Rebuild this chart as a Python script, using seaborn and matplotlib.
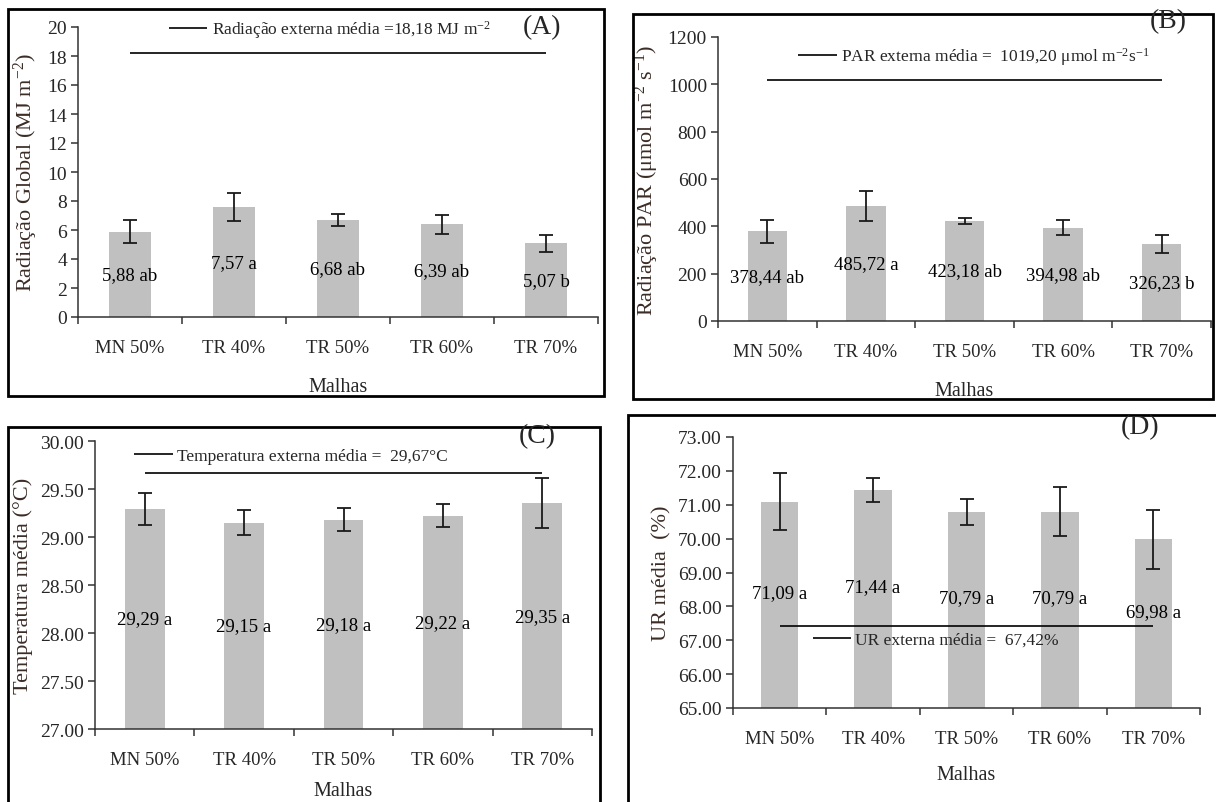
import matplotlib
matplotlib.use("Agg")
import matplotlib.pyplot as plt
import matplotlib.patches as patches
import seaborn as sns
import pandas as pd
import numpy as np

# Data
malhas = ["MN 50%", "TR 40%", "TR 50%", "TR 60%", "TR 70%"]

rad_global = [5.88, 7.57, 6.68, 6.39, 5.07]
rad_global_err = [0.80, 0.95, 0.40, 0.65, 0.58]
rad_global_lbl = ["5,88 ab", "7,57 a", "6,68 ab", "6,39 ab", "5,07 b"]
rad_global_ext = 18.18

par = [378.44, 485.72, 423.18, 394.98, 326.23]
par_err = [50, 62, 14, 32, 38]
par_lbl = ["378,44 ab", "485,72 a", "423,18 ab", "394,98 ab", "326,23 b"]
par_ext = 1019.20

temp = [29.29, 29.15, 29.18, 29.22, 29.35]
temp_err = [0.17, 0.13, 0.12, 0.12, 0.26]
temp_lbl = ["29,29 a", "29,15 a", "29,18 a", "29,22 a", "29,35 a"]
temp_ext = 29.67

ur = [71.09, 71.44, 70.79, 70.79, 69.98]
ur_err = [0.85, 0.35, 0.38, 0.72, 0.87]
ur_lbl = ["71,09 a", "71,44 a", "70,79 a", "70,79 a", "69,98 a"]
ur_ext = 67.42

sns.set_theme(style="white")
plt.rcParams["font.family"] = ["Liberation Serif", "DejaVu Serif"]
plt.rcParams["mathtext.default"] = "regular"

W, H = 1216, 803
fig = plt.figure(figsize=(W / 100, H / 100), dpi=100)
fig.patch.set_facecolor("white")


def px_axes(l, r, t, b):
    return fig.add_axes([l / W, 1 - b / H, (r - l) / W, (b - t) / H])


def box(l, t, r, b):
    fig.patches.append(patches.Rectangle((l / W, 1 - b / H), (r - l) / W, (b - t) / H,
                                         transform=fig.transFigure, fill=False,
                                         edgecolor="black", linewidth=2))


def panel(ax, vals, errs, lbls, ref, ref_text, ylim, yticks, fmt, ylabel,
          leg_xy, tag, tag_xy, lbl_shift=0.0, xlabelpad=15):
    df = pd.DataFrame({"Malha": malhas, "Valor": vals})
    sns.barplot(data=df, x="Malha", y="Valor", color="#c0c0c0", width=0.4,
                saturation=1, ax=ax, edgecolor="none")
    ax.errorbar(range(len(malhas)), vals, yerr=errs, fmt="none", ecolor="#1a1a1a",
                elinewidth=1.3, capsize=5, capthick=1.3, zorder=5)
    for i, (v, s) in enumerate(zip(vals, lbls)):
        ax.text(i, (ylim[0] + v) / 2 + lbl_shift, s, ha="center", va="center",
                fontsize=13.5, color="black", zorder=6)
    ax.hlines(ref, 0, len(malhas) - 1, colors="black", linewidth=1.2, label=ref_text)
    ax.legend(loc="center", bbox_to_anchor=(leg_xy[0] / W, 1 - leg_xy[1] / H),
              bbox_transform=fig.transFigure, frameon=False, fontsize=12.5,
              handlelength=2.2, handletextpad=0.25, borderpad=0)
    ax.set_ylim(*ylim)
    ax.set_yticks(yticks)
    ax.set_yticklabels([fmt.format(t) for t in yticks])
    ax.set_xlim(-0.5, len(malhas) - 0.5)
    ax.set_xticks(np.arange(-0.5, len(malhas), 1))
    ax.set_xticklabels([])
    ax.set_xticks(range(len(malhas)), minor=True)
    ax.set_xticklabels(malhas, minor=True)
    ax.tick_params(axis="x", which="major", direction="out", length=5, width=1.1,
                   color="#333333", bottom=True)
    ax.tick_params(axis="x", which="minor", length=0, pad=16, labelsize=13.5)
    ax.tick_params(axis="y", direction="out", length=5, width=1.1, color="#333333",
                   left=True, labelsize=14, pad=3)
    for s in ["top", "right"]:
        ax.spines[s].set_visible(False)
    for s in ["left", "bottom"]:
        ax.spines[s].set_color("#333333")
        ax.spines[s].set_linewidth(1.1)
    ax.set_ylabel(ylabel, fontsize=16, color="#3b2c26", labelpad=5)
    ax.set_xlabel("Malhas", fontsize=14.5, labelpad=xlabelpad)
    fig.text(tag_xy[0] / W, 1 - tag_xy[1] / H, tag, ha="center", va="center",
             fontsize=20)


# panel frames
box(8, 10, 604, 397)
box(633, 15, 1213, 400)
box(8, 428, 600, 812)
box(628, 416, 1222, 812)

axA = px_axes(78, 598, 28, 318)
panel(axA, rad_global, rad_global_err, rad_global_lbl, rad_global_ext,
      "Radiação externa média =18,18 MJ m$^{-2}$",
      (0, 20), np.arange(0, 21, 2), "{:.0f}", "Radiação Global (MJ m$^{-2}$)",
      (330, 30), "(A)", (542, 28))

axB = px_axes(718, 1211, 38, 322)
panel(axB, par, par_err, par_lbl, par_ext,
      "PAR externa média =  1019,20 μmol m$^{-2}$s$^{-1}$",
      (0, 1200), np.arange(0, 1201, 200), "{:.0f}", "Radiação PAR (μmol m$^{-2}$ s$^{-1}$)",
      (974, 57), "(B)", (1168, 22))

axC = px_axes(95, 592, 442, 730)
panel(axC, temp, temp_err, temp_lbl, temp_ext,
      "Temperatura externa média =  29,67°C",
      (27, 30), np.arange(27, 30.01, 0.5), "{:.2f}", "Temperatura média (°C)",
      (291, 457), "(C)", (537, 437), xlabelpad=9)

axD = px_axes(733, 1200, 438, 709)
panel(axD, ur, ur_err, ur_lbl, ur_ext,
      "UR externa média =  67,42%",
      (65, 73), np.arange(65, 73.01, 1), "{:.2f}", "UR média  (%)",
      (936, 641), "(D)", (1140, 428), lbl_shift=0.35, xlabelpad=13)

fig.savefig("out.png", dpi=100, facecolor="white")
